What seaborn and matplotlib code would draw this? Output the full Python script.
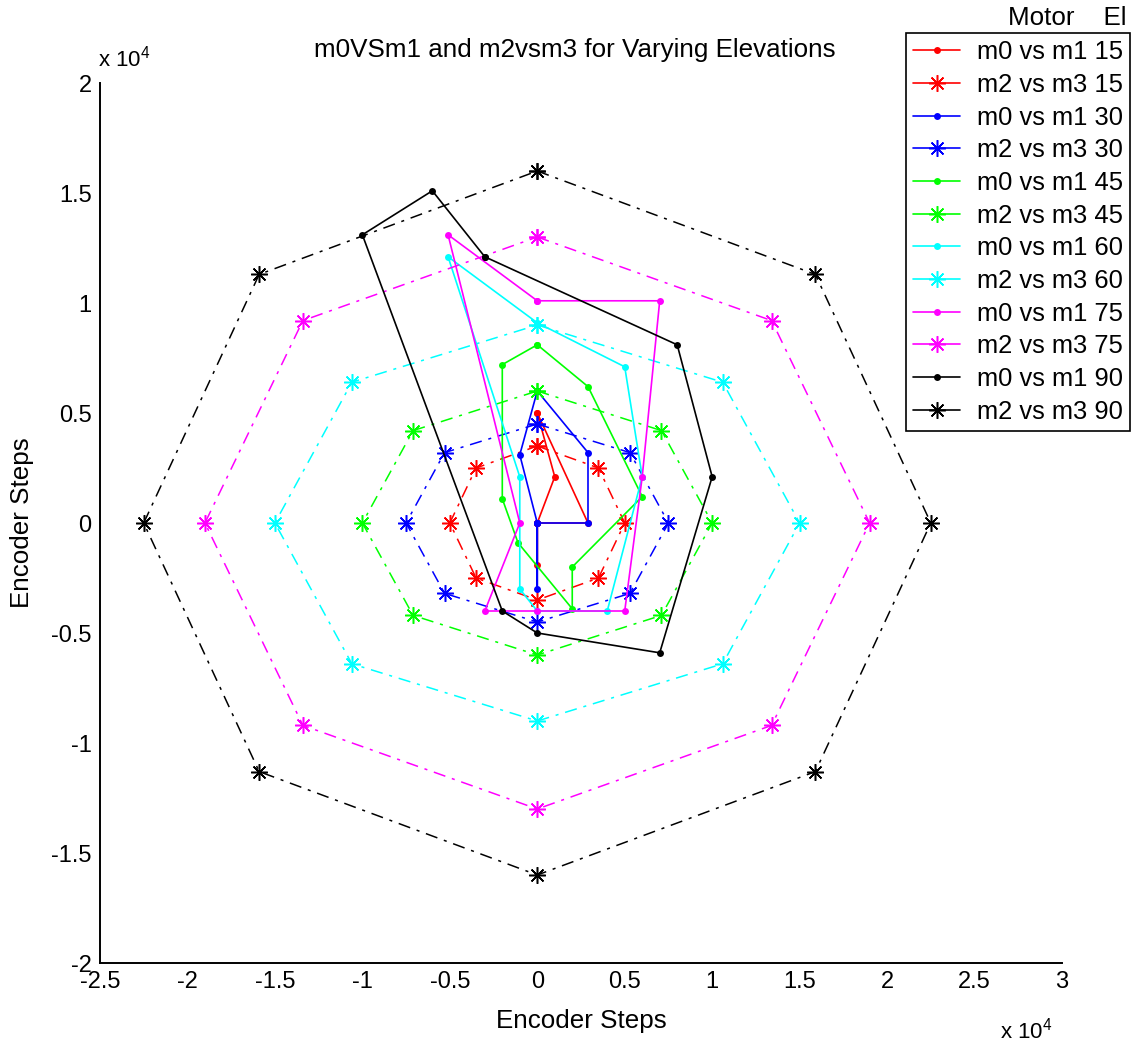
import matplotlib
matplotlib.use("Agg")
import matplotlib.pyplot as plt
from matplotlib.lines import Line2D
from matplotlib.ticker import FuncFormatter, MultipleLocator
import seaborn as sns

sns.set_style("white")
plt.rcParams["font.family"] = ["Liberation Sans", "DejaVu Sans"]
plt.rcParams["mathtext.fontset"] = "custom"
plt.rcParams["mathtext.rm"] = "Liberation Sans"
plt.rcParams["text.color"] = "black"
plt.rcParams["axes.labelcolor"] = "black"
plt.rcParams["xtick.color"] = "black"
plt.rcParams["ytick.color"] = "black"

# ---------------- data (encoder steps) ----------------
elevations = [15, 30, 45, 60, 75, 90]
colors = ["#ff0000", "#0000ff", "#00ff00", "#00ffff", "#ff00ff", "#000000"]

# m0 vs m1 (solid, dots)
m01_x_15 = [0, 2900, 0, 0, 0, 0, 0, 1000, 0]
m01_y_15 = [5000, 0, 0, 0, -1900, 0, 0, 2100, 5000]
m01_x_30 = [0, 2900, 2900, 0, 0, 0, 0, -1000, 0]
m01_y_30 = [6000, 3200, 0, 0, -3000, 0, 0, 3100, 6000]
m01_x_45 = [0, 2900, 6000, 2000, 2000, -1100, -2000, -2000, 0]
m01_y_45 = [8100, 6200, 1200, -2000, -3900, -900, 1100, 7200, 8100]
m01_x_60 = [0, 5000, 6000, 4000, 0, -1000, -1000, -5100, 0]
m01_y_60 = [9100, 7100, 2100, -4000, -4000, -3000, 2100, 12100, 9100]
m01_x_75 = [0, 7000, 6000, 5000, 0, -3000, -1000, -5100, 0]
m01_y_75 = [10100, 10100, 2100, -4000, -4000, -4000, 0, 13100, 10100]
m01_x_90 = [-3000, 8000, 10000, 7000, 0, -2000, -10000, -6000, -3000]
m01_y_90 = [12100, 8100, 2100, -5900, -5000, -4000, 13100, 15100, 12100]

# m2 vs m3 (dash-dot, asterisks)
m23_x_15 = [0, 3500, 5000, 3500, 0, -3500, -5000, -3500, 0]
m23_y_15 = [3500, 2500, 0, -2500, -3500, -2500, 0, 2500, 3500]
m23_x_30 = [0, 5300, 7500, 5300, 0, -5300, -7500, -5300, 0]
m23_y_30 = [4500, 3200, 0, -3200, -4500, -3200, 0, 3200, 4500]
m23_x_45 = [0, 7100, 10000, 7100, 0, -7100, -10000, -7100, 0]
m23_y_45 = [6000, 4200, 0, -4200, -6000, -4200, 0, 4200, 6000]
m23_x_60 = [0, 10600, 15000, 10600, 0, -10600, -15000, -10600, 0]
m23_y_60 = [9000, 6400, 0, -6400, -9000, -6400, 0, 6400, 9000]
m23_x_75 = [0, 13400, 19000, 13400, 0, -13400, -19000, -13400, 0]
m23_y_75 = [13000, 9200, 0, -9200, -13000, -9200, 0, 9200, 13000]
m23_x_90 = [0, 15900, 22500, 15900, 0, -15900, -22500, -15900, 0]
m23_y_90 = [16000, 11300, 0, -11300, -16000, -11300, 0, 11300, 16000]

m01 = {15: (m01_x_15, m01_y_15), 30: (m01_x_30, m01_y_30), 45: (m01_x_45, m01_y_45),
       60: (m01_x_60, m01_y_60), 75: (m01_x_75, m01_y_75), 90: (m01_x_90, m01_y_90)}
m23 = {15: (m23_x_15, m23_y_15), 30: (m23_x_30, m23_y_30), 45: (m23_x_45, m23_y_45),
       60: (m23_x_60, m23_y_60), 75: (m23_x_75, m23_y_75), 90: (m23_x_90, m23_y_90)}

title = "m0VSm1 and m2vsm3 for Varying Elevations"
xlabel = "Encoder Steps"
ylabel = "Encoder Steps"

W, H = 1143, 1046
fig = plt.figure(figsize=(W / 100, H / 100), dpi=100)
ax = fig.add_axes([100 / W, (H - 963) / H, 962 / W, 880 / H])

FS = 17      # tick labels
FS_T = 18.7  # title / axis labels
FS_L = 18.4  # legend
asterisk = (8, 2, 0)
dashdot = (0, (8, 4.5, 2, 4.5))
handles, labels = [], []
for e, c in zip(elevations, colors):
    x, y = m01[e]
    sns.lineplot(x=x, y=y, sort=False, estimator=None, ax=ax, color=c, lw=1.2,
                 marker="o", markersize=5, markeredgecolor=c, markeredgewidth=0,
                 legend=False)
    handles.append(Line2D([], [], color=c, lw=1.2, marker="o", markersize=5,
                          markeredgewidth=0))
    labels.append(f"m0 vs m1 {e}")
    x, y = m23[e]
    sns.lineplot(x=x, y=y, sort=False, estimator=None, ax=ax, color=c, lw=1.1,
                 linestyle=dashdot, marker=asterisk, markersize=12,
                 markeredgecolor=c, markeredgewidth=1.1, legend=False)
    handles.append(Line2D([], [], color=c, lw=1.2, marker=asterisk, markersize=12,
                          markeredgecolor=c, markeredgewidth=1.1))
    labels.append(f"m2 vs m3 {e}")

ax.set_xlim(-25000, 30000)
ax.set_ylim(-20000, 20000)
ax.xaxis.set_major_locator(MultipleLocator(5000))
ax.yaxis.set_major_locator(MultipleLocator(5000))
fmt = FuncFormatter(lambda v, p: f"{v / 1e4:g}")
ax.xaxis.set_major_formatter(fmt)
ax.yaxis.set_major_formatter(fmt)
ax.tick_params(direction="in", length=8, width=1.2, labelsize=FS, pad=6,
               colors="black")
for s in ["top", "right"]:
    ax.spines[s].set_visible(False)
for s in ["left", "bottom"]:
    ax.spines[s].set_linewidth(1.4)
    ax.spines[s].set_color("black")
ax.grid(False)

ax.set_xlabel(xlabel, fontsize=FS_T, labelpad=11)
ax.set_ylabel(ylabel, fontsize=FS_T, labelpad=12)
fig.text(575 / W, 1 - 50 / H, title, fontsize=FS_T, ha="center", va="center")
fig.text(98 / W, 1 - 66 / H, r"x 10$^{4}$", fontsize=16, ha="left", va="baseline")
fig.text(1000 / W, 1 - 1038 / H, r"x 10$^{4}$", fontsize=16, ha="left", va="baseline")

leg = fig.legend(handles, labels, loc="upper left",
                 bbox_to_anchor=(906 / W, 1 - 33 / H), borderaxespad=0,
                 fontsize=FS_L, frameon=True, fancybox=False, edgecolor="black",
                 framealpha=1, handlelength=1.83, handletextpad=0.66,
                 labelspacing=0.34, borderpad=0.28)
leg.get_frame().set_linewidth(1.2)
fig.text(1127 / W, 1 - 18 / H, "Motor    El", fontsize=FS_T, ha="right", va="center")

fig.savefig("out.png", dpi=100, facecolor="white")
